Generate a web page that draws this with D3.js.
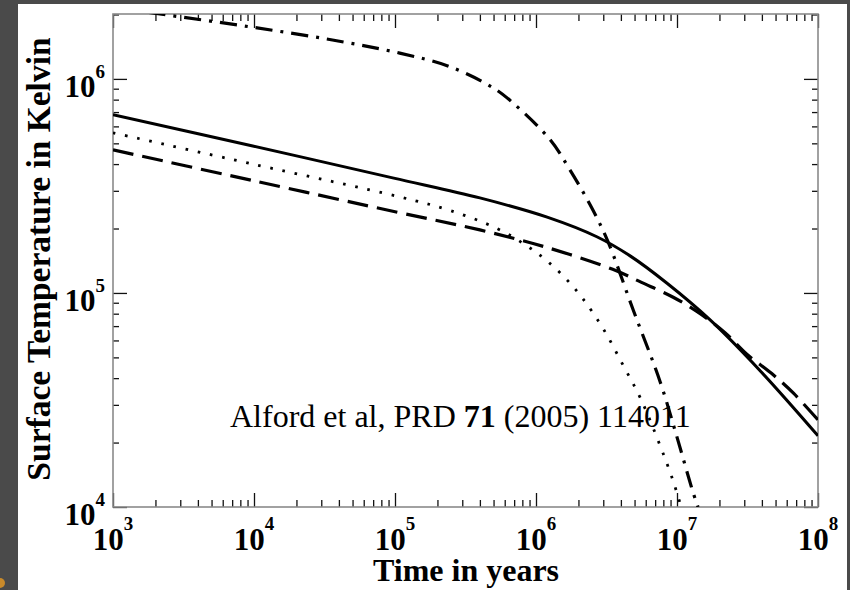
<!DOCTYPE html>
<html lang="en">
<head>
<meta charset="utf-8">
<script src="https://d3js.org/d3.v7.min.js"></script>
<title>Surface Temperature</title>
<style>
    body { margin: 0; background-color: #4a4a4a; }
    svg { display: block; }
    .tick line { stroke: #111; stroke-width: 1.3; }
</style>
</head>
<body>
<div id="container"></div>
<script>
    // curves: time in years, temperature in K
    var solidYears = [1e3, 9.8e3, 9.8e4, 4.0e5, 1.2e6, 2.7e6, 4.65e6, 8.5e6, 1.71e7, 3.9e7, 1e8];
    var solidTemp  = [6.8e5, 4.86e5, 3.44e5, 2.78e5, 2.26e5, 1.83e5, 1.49e5, 1.11e5, 7.5e4, 4.32e4, 2.15e4];

    var dashYears = [1e3, 1e4, 1.08e5, 4e5, 1.2e6, 3.5e6, 5.6e6, 9.4e6, 1.46e7, 2.2e7, 3.1e7, 4.7e7, 6.7e7, 1e8];
    var dashTemp  = [4.66e5, 3.34e5, 2.37e5, 1.97e5, 1.63e5, 1.29e5, 1.12e5, 9.55e4, 8.0e4, 6.5e4, 5.2e4, 4.2e4, 3.4e4, 2.55e4];

    var dotYears = [1e3, 9.8e3, 1.08e5, 2.45e5, 5.3e5, 8.6e5, 1.2e6, 1.66e6, 2.15e6, 3.0e6, 4.1e6, 5.5e6, 7.6e6, 9.4e6, 1.07e7];
    var dotTemp  = [5.6e5, 4.0e5, 2.81e5, 2.43e5, 2.0e5, 1.66e5, 1.41e5, 1.15e5, 9.4e4, 6.8e4, 4.66e4, 3.23e4, 1.93e4, 1.32e4, 1e4];

    var dashDotYears = [1e3, 2.15e3, 9.4e3, 3.6e4, 1.08e5, 2.45e5, 4.95e5, 6.9e5, 1.26e6, 1.74e6, 2.42e6, 3.2e6, 4.9e6, 7.6e6, 1e7, 1.3e7, 1.41e7];
    var dashDotTemp  = [2.16e6, 2.01e6, 1.75e6, 1.52e6, 1.32e6, 1.14e6, 9.1e5, 7.7e5, 5.2e5, 3.76e5, 2.58e5, 1.77e5, 8.3e4, 3.84e4, 2.12e4, 1.17e4, 1e4];

    var xMajor = [1e3, 1e4, 1e5, 1e6, 1e7, 1e8];
    var xExp   = ["3", "4", "5", "6", "7", "8"];
    var yMajor = [1e4, 1e5, 1e6];
    var yExp   = ["4", "5", "6"];

    var W = 850, H = 590;
    var plotL = 113, plotR = 818, plotT = 14, plotB = 507;

    var svg = d3.select("#container").append("svg")
        .attr("width", W).attr("height", H);

    svg.append("rect").attr("x", 18).attr("y", 4)
        .attr("width", 829).attr("height", H - 4).attr("fill", "#fff");
    svg.append("circle").attr("cx", 0).attr("cy", 583).attr("r", 5).attr("fill", "#c98a2a");

    var x = d3.scaleLog().domain([1e3, 1e8]).range([plotL, plotR]);
    var y = d3.scaleLog().domain([1e4, 2.01e6]).range([plotB, plotT]);

    function minors(lo, hi, maxV) {
        var out = [];
        for (var p = lo; p < hi; p++) {
            for (var k = 2; k <= 9; k++) {
                var v = k * Math.pow(10, p);
                if (v <= maxV) out.push(v);
            }
        }
        return out;
    }
    var xMinor = minors(3, 8, 1e8);
    var yMinor = minors(4, 7, 2.01e6);

    function addAxis(axis, tr) {
        var g = svg.append("g").attr("transform", tr).call(axis);
        g.select(".domain").remove();
        g.selectAll("text").remove();
    }
    addAxis(d3.axisBottom(x).tickValues(xMajor).tickSize(-14), "translate(0," + plotB + ")");
    addAxis(d3.axisBottom(x).tickValues(xMinor).tickSize(-7), "translate(0," + plotB + ")");
    addAxis(d3.axisTop(x).tickValues(xMajor).tickSize(-14), "translate(0," + plotT + ")");
    addAxis(d3.axisTop(x).tickValues(xMinor).tickSize(-7), "translate(0," + plotT + ")");
    addAxis(d3.axisLeft(y).tickValues(yMajor).tickSize(-14), "translate(" + plotL + ",0)");
    addAxis(d3.axisLeft(y).tickValues(yMinor).tickSize(-6), "translate(" + plotL + ",0)");
    addAxis(d3.axisRight(y).tickValues(yMajor).tickSize(-14), "translate(" + plotR + ",0)");
    addAxis(d3.axisRight(y).tickValues(yMinor).tickSize(-6), "translate(" + plotR + ",0)");

    svg.append("rect")
        .attr("x", plotL).attr("y", plotT)
        .attr("width", plotR - plotL).attr("height", plotB - plotT)
        .attr("fill", "none").attr("stroke", "#8a8a8a").attr("stroke-width", 1.6);

    svg.append("clipPath").attr("id", "plotclip").append("rect")
        .attr("x", plotL).attr("y", plotT)
        .attr("width", plotR - plotL).attr("height", plotB - plotT);

    var line = d3.line()
        .x(function(d) { return x(d[0]); })
        .y(function(d) { return y(d[1]); })
        .curve(d3.curveCatmullRom.alpha(0.5));

    function drawCurve(years, temps, dash, width) {
        svg.append("path")
            .datum(d3.zip(years, temps))
            .attr("clip-path", "url(#plotclip)")
            .attr("d", line)
            .attr("fill", "none")
            .attr("stroke", "#000")
            .attr("stroke-width", width)
            .attr("stroke-dasharray", dash);
    }
    drawCurve(solidYears, solidTemp, null, 3);
    drawCurve(dashYears, dashTemp, "21,9", 3.2);
    drawCurve(dotYears, dotTemp, "2.6,9.8", 2.8);
    drawCurve(dashDotYears, dashDotTemp, "17,8,3,8", 3.2);

    var serif = "'Liberation Serif', 'Times New Roman', serif";

    // x tick labels
    xMajor.forEach(function(v, i) {
        var t = svg.append("text")
            .attr("x", x(v)).attr("y", 550)
            .attr("text-anchor", "middle")
            .attr("font-family", serif).attr("font-weight", "bold")
            .attr("font-size", 31).attr("fill", "#000");
        t.append("tspan").text("10");
        t.append("tspan").attr("dy", -20).attr("font-size", 19).text(xExp[i]);
    });

    // y tick labels
    yMajor.forEach(function(v, i) {
        var t = svg.append("text")
            .attr("x", 105).attr("y", y(v) + 18)
            .attr("text-anchor", "end")
            .attr("font-family", serif).attr("font-weight", "bold")
            .attr("font-size", 31).attr("fill", "#000");
        t.append("tspan").text("10");
        t.append("tspan").attr("dy", -19).attr("font-size", 19).text(yExp[i]);
    });

    svg.append("text")
        .attr("x", 466).attr("y", 581)
        .attr("text-anchor", "middle")
        .attr("font-family", serif).attr("font-weight", "bold")
        .attr("font-size", 32).attr("fill", "#000")
        .text("Time in years");

    svg.append("text")
        .attr("transform", "translate(50,259) rotate(-90)")
        .attr("text-anchor", "middle")
        .attr("font-family", serif).attr("font-weight", "bold")
        .attr("font-size", 33.5).attr("fill", "#000")
        .text("Surface Temperature in Kelvin");

    var note = svg.append("text")
        .attr("x", 230).attr("y", 427)
        .attr("font-family", serif)
        .attr("font-size", 32).attr("fill", "#000");
    note.append("tspan").text("Alford et al, PRD ");
    note.append("tspan").attr("font-weight", "bold").text("71");
    note.append("tspan").text(" (2005) 114011");
</script>
</body>
</html>
